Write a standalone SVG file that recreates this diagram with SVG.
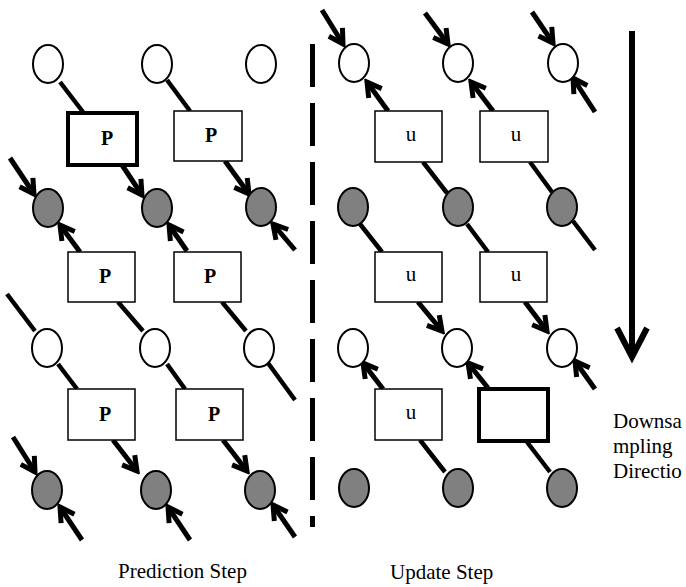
<svg xmlns="http://www.w3.org/2000/svg" width="686" height="587" viewBox="0 0 686 587">
  <style>
    .w { fill: #ffffff; stroke: #000; stroke-width: 2; }
    .g { fill: #808080; stroke: #000; stroke-width: 2; }
    .box { fill: #ffffff; stroke: #000; stroke-width: 1.5; }
    .thick { fill: #ffffff; stroke: #000; stroke-width: 4; }
    .ln { stroke: #000; stroke-width: 4.5; fill: none; }
    .ar { stroke: #000; stroke-width: 5; fill: none; marker-end: url(#head); }
    .lblP { font-family: "Liberation Serif", "Times New Roman", serif; font-size: 20px; font-weight: bold; text-anchor: middle; }
    .lblU { font-family: "Liberation Serif", "Times New Roman", serif; font-size: 21px; text-anchor: middle; }
    .cap { font-family: "Liberation Serif", "Times New Roman", serif; font-size: 21px; }
  </style>
  <defs>
    <marker id="head" viewBox="-20 -12 24 24" refX="0" refY="0" markerWidth="24" markerHeight="24" markerUnits="userSpaceOnUse" orient="auto">
      <path d="M-14,-8 L0,0 L-14,8" fill="none" stroke="#000" stroke-width="5"/>
    </marker>
  </defs>

  <!-- connectors -->
  <g id="connectors">
    <!-- prediction side -->
    <line class="ln" x1="60" y1="82" x2="83" y2="112"/>
    <line class="ar" x1="122" y1="165" x2="142" y2="195"/>
    <line class="ar" x1="10" y1="158" x2="34" y2="194"/>
    <line class="ln" x1="167" y1="80" x2="190" y2="111"/>
    <line class="ar" x1="225" y1="161" x2="249" y2="194"/>
    <line class="ar" x1="80" y1="252" x2="60" y2="225"/>
    <line class="ar" x1="187" y1="251" x2="169" y2="225"/>
    <line class="ar" x1="295" y1="250" x2="273" y2="224"/>
    <line class="ln" x1="7" y1="294" x2="35" y2="331"/>
    <line class="ln" x1="118" y1="302" x2="143" y2="331"/>
    <line class="ln" x1="222" y1="302" x2="246" y2="331"/>
    <line class="ln" x1="268" y1="363" x2="295" y2="400"/>
    <line class="ln" x1="58" y1="364" x2="77" y2="389"/>
    <line class="ln" x1="167" y1="364" x2="185" y2="389"/>
    <line class="ar" x1="113" y1="440" x2="137" y2="471"/>
    <line class="ar" x1="223" y1="440" x2="247" y2="471"/>
    <line class="ar" x1="13" y1="437" x2="35" y2="472"/>
    <line class="ar" x1="82" y1="540" x2="60" y2="507"/>
    <line class="ar" x1="190" y1="540" x2="168" y2="507"/>
    <line class="ar" x1="295" y1="537" x2="273" y2="505"/>
    <!-- update side -->
    <line class="ar" x1="322" y1="10" x2="343" y2="44"/>
    <line class="ar" x1="425" y1="13" x2="448" y2="44"/>
    <line class="ar" x1="532" y1="12" x2="553" y2="43"/>
    <line class="ar" x1="595" y1="112" x2="573" y2="78"/>
    <line class="ar" x1="388" y1="111" x2="367" y2="82"/>
    <line class="ar" x1="493" y1="111" x2="471" y2="82"/>
    <line class="ln" x1="423" y1="162" x2="447" y2="193"/>
    <line class="ln" x1="530" y1="162" x2="552" y2="192"/>
    <line class="ln" x1="360" y1="224" x2="382" y2="252"/>
    <line class="ln" x1="467" y1="224" x2="488" y2="252"/>
    <line class="ln" x1="573" y1="221" x2="595" y2="250"/>
    <line class="ar" x1="418" y1="302" x2="442" y2="331"/>
    <line class="ar" x1="525" y1="302" x2="547" y2="331"/>
    <line class="ar" x1="383" y1="389" x2="363" y2="363"/>
    <line class="ar" x1="488" y1="388" x2="468" y2="363"/>
    <line class="ar" x1="595" y1="389" x2="575" y2="361"/>
    <line class="ln" x1="420" y1="440" x2="445" y2="472"/>
    <line class="ln" x1="527" y1="442" x2="550" y2="472"/>
  </g>

  <!-- divider between the two steps -->
  <line x1="312.5" y1="44" x2="312.5" y2="527" stroke="#000" stroke-width="5" stroke-dasharray="43 16"/>

  <!-- downsampling direction arrow -->
  <g id="direction">
    <line x1="632" y1="31" x2="632" y2="356" stroke="#000" stroke-width="6"/>
    <path d="M617,328 L632,357 L647,328" fill="none" stroke="#000" stroke-width="6"/>
  </g>

  <!-- prediction step nodes -->
  <g id="pw1"><ellipse class="w" cx="48" cy="64" rx="15" ry="19"/></g>
  <g id="pw2"><ellipse class="w" cx="157" cy="64" rx="15" ry="19"/></g>
  <g id="pw3"><ellipse class="w" cx="261" cy="64" rx="15" ry="19"/></g>
  <g id="pg1"><ellipse class="g" cx="48" cy="208" rx="15" ry="19"/></g>
  <g id="pg2"><ellipse class="g" cx="157" cy="208" rx="15" ry="19"/></g>
  <g id="pg3"><ellipse class="g" cx="261" cy="207" rx="15" ry="19"/></g>
  <g id="pw4"><ellipse class="w" cx="47" cy="348" rx="15" ry="19"/></g>
  <g id="pw5"><ellipse class="w" cx="155" cy="348" rx="15" ry="19"/></g>
  <g id="pw6"><ellipse class="w" cx="259" cy="348" rx="15" ry="19"/></g>
  <g id="pg4"><ellipse class="g" cx="47" cy="490" rx="15" ry="19"/></g>
  <g id="pg5"><ellipse class="g" cx="156" cy="490" rx="15" ry="19"/></g>
  <g id="pg6"><ellipse class="g" cx="260" cy="490" rx="15" ry="19"/></g>

  <g id="p1"><rect class="thick" x="68" y="113" width="69" height="52"/><text class="lblP" x="107" y="145">P</text></g>
  <g id="p2"><rect class="box" x="174" y="111" width="68" height="50"/><text class="lblP" x="211" y="142">P</text></g>
  <g id="p3"><rect class="box" x="68" y="252" width="67" height="50"/><text class="lblP" x="105" y="283">P</text></g>
  <g id="p4"><rect class="box" x="174" y="252" width="67" height="50"/><text class="lblP" x="210" y="283">P</text></g>
  <g id="p5"><rect class="box" x="68" y="389" width="67" height="51"/><text class="lblP" x="105" y="421">P</text></g>
  <g id="p6"><rect class="box" x="176" y="389" width="67" height="51"/><text class="lblP" x="214" y="421">P</text></g>

  <!-- update step nodes -->
  <g id="uw1"><ellipse class="w" cx="354" cy="63" rx="15" ry="19"/></g>
  <g id="uw2"><ellipse class="w" cx="458" cy="63" rx="15" ry="19"/></g>
  <g id="uw3"><ellipse class="w" cx="563" cy="63" rx="15" ry="19"/></g>
  <g id="ug1"><ellipse class="g" cx="353" cy="207" rx="15" ry="19"/></g>
  <g id="ug2"><ellipse class="g" cx="458" cy="207" rx="15" ry="19"/></g>
  <g id="ug3"><ellipse class="g" cx="562" cy="207" rx="15" ry="19"/></g>
  <g id="uw4"><ellipse class="w" cx="353" cy="348" rx="15" ry="19"/></g>
  <g id="uw5"><ellipse class="w" cx="457" cy="348" rx="15" ry="19"/></g>
  <g id="uw6"><ellipse class="w" cx="562" cy="348" rx="15" ry="19"/></g>
  <g id="ug4"><ellipse class="g" cx="354" cy="488" rx="15" ry="19"/></g>
  <g id="ug5"><ellipse class="g" cx="458" cy="488" rx="15" ry="19"/></g>
  <g id="ug6"><ellipse class="g" cx="562" cy="488" rx="15" ry="19"/></g>

  <g id="u1"><rect class="box" x="375" y="111" width="67" height="51"/><text class="lblU" x="411" y="141">u</text></g>
  <g id="u2"><rect class="box" x="480" y="111" width="68" height="51"/><text class="lblU" x="516" y="141">u</text></g>
  <g id="u3"><rect class="box" x="375" y="252" width="67" height="50"/><text class="lblU" x="411" y="281">u</text></g>
  <g id="u4"><rect class="box" x="480" y="252" width="67" height="50"/><text class="lblU" x="516" y="281">u</text></g>
  <g id="u5"><rect class="box" x="375" y="389" width="67" height="51"/><text class="lblU" x="411" y="419">u</text></g>
  <g id="u6"><rect class="thick" x="479" y="389" width="69" height="52"/></g>

  <!-- captions -->
  <text class="cap" x="118" y="578">Prediction Step</text>
  <text class="cap" x="390" y="579">Update Step</text>
  <text class="cap" x="613" y="428">Downsa</text>
  <text class="cap" x="613" y="453">mpling</text>
  <text class="cap" x="613" y="478">Directio</text>
</svg>
